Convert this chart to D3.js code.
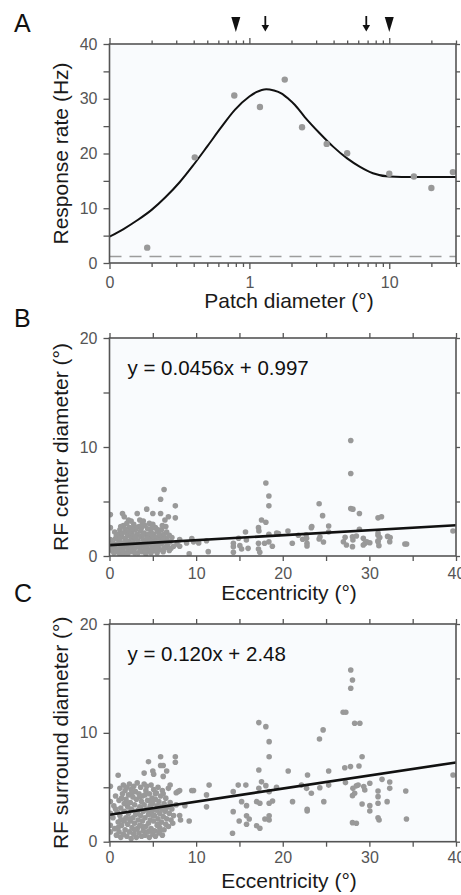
<!DOCTYPE html>
<html><head><meta charset="utf-8">
<script src="https://cdn.jsdelivr.net/npm/d3@7"></script>
<style>
html,body{margin:0;padding:0;background:#fff;}
svg text{font-family:"Liberation Sans",Arial,Helvetica,sans-serif;}
</style></head>
<body>
<svg id="fig" width="461" height="895"></svg>
<script>
// ---------- DATA ----------
// Panel A: response vs patch diameter
const aDiam = [0.186,0.407,0.78,1.19,1.79,2.38,3.57,5.0,10,15,20,28.5];
const aRate = [2.8,19.3,30.6,28.5,33.5,24.8,21.75,20.05,16.3,15.8,13.7,16.6];
const aFitX = [0.1,0.126,0.158,0.2,0.251,0.316,0.398,0.5,0.63,0.79,1.0,1.12,1.32,1.5,1.69,1.9,2.11,2.48,3.18,3.95,5.0,6.14,7.64,10,15,30];
const aFitY = [4.8,6.2,7.8,9.7,12.0,14.7,17.9,21.3,24.8,28.0,30.4,31.2,31.75,31.5,31.0,30.0,28.9,26.7,23.7,21.3,19.1,17.6,16.4,15.8,15.7,15.7];
const aBaseline = 1.2;
const aTriangles = [0.8,10];
const aArrows = [1.3,6.85];
const aXTickLabels = {0.1:"0",1:"1",10:"10"};

// Panel B: RF center diameter vs eccentricity
const bPoints = [
[0.1,3.8],[0.1,2.6],[0.1,1.5],[0.1,0.9],[0.3,0.5],[0.4,1.2],[0.5,0.3],[0.6,0.8],[0.7,1.6],[0.8,0.4],[0.9,1.1],[1.0,2.0],[1.0,0.6],[1.1,1.4],[1.2,2.4],[1.2,0.2],[1.3,0.9],[1.4,1.8],[1.5,3.9],[1.5,0.5],[1.6,1.2],[1.6,2.8],[1.7,3.6],[1.7,0.8],[1.8,1.6],[1.9,2.2],[1.9,0.3],[2.0,1.0],[2.0,3.0],[2.1,1.9],[2.2,0.6],[2.2,3.3],[2.3,1.3],[2.3,2.6],[2.4,0.4],[2.5,1.7],[2.5,3.2],[2.6,0.9],[2.6,2.1],[2.7,1.2],[2.8,2.9],[2.8,0.5],[2.9,1.6],[3.0,2.4],[3.0,0.8],[3.1,1.1],[3.2,3.9],[3.2,2.0],[3.3,0.3],[3.3,1.4],[3.4,2.7],[3.5,3.3],[3.5,0.7],[3.6,1.8],[3.6,2.3],[3.7,1.0],[3.8,3.0],[3.8,0.4],[3.9,1.5],[3.9,3.2],[4.0,2.1],[4.0,0.9],[4.1,2.8],[4.2,1.3],[4.2,0.2],[4.3,4.3],[4.3,1.9],[4.4,0.6],[4.4,2.5],[4.5,1.1],[4.6,3.0],[4.6,1.6],[4.7,0.4],[4.8,2.2],[4.9,0.8],[4.9,1.4],[5.0,3.9],[5.0,2.9],[5.1,1.0],[5.1,2.0],[5.2,0.5],[5.3,1.7],[5.3,2.6],[5.4,1.2],[5.5,0.3],[5.5,2.3],[5.6,0.9],[5.6,2.4],[5.7,1.5],[5.8,1.9],[5.8,0.6],[5.9,5.2],[5.9,3.9],[6.0,1.1],[6.0,2.4],[6.1,1.6],[6.2,0.4],[6.3,6.1],[6.3,2.0],[6.4,3.3],[6.4,1.3],[6.5,0.8],[6.5,2.7],[6.6,1.6],[6.7,1.0],[6.8,3.6],[6.9,0.5],[7.0,1.3],[7.2,1.7],[7.4,0.9],[7.6,4.6],[7.6,3.5],[7.8,1.1],[8.1,1.5],[8.1,0.9],[8.9,1.2],[9.2,0.2],[9.5,1.6],[9.7,1.3],[10.3,1.2],[11.2,1.4],[11.4,0.4],
[0.6,2.2],[0.8,1.9],[1.1,0.3],[1.3,2.7],[1.4,1.0],[1.6,0.2],[1.8,2.5],[2.0,1.4],[2.1,0.2],[2.4,2.3],[2.7,1.8],[2.9,0.3],[3.1,2.6],[3.4,1.1],[3.6,0.5],[3.9,2.0],[4.1,0.5],[4.3,1.0],[4.5,2.0],[4.8,0.3],[4.9,2.6],[5.2,1.4],[5.4,0.7],[5.7,2.1],[5.9,1.2],[6.1,2.8],[6.3,0.7],[6.6,2.2],[6.9,1.9],[7.1,0.7],[1.2,1.6],[2.2,1.1],[3.0,1.7],[3.7,2.6],[4.4,1.6],[5.0,1.8],[5.6,1.3],[6.2,1.5],[1.5,2.1],[2.6,2.5],
[27.85,10.6],[27.85,7.57],[18.05,6.7],[18.4,5.5],[18.4,4.6],[24.2,4.8],[24.6,3.7],[27.85,4.35],[28.1,4.3],[28.85,3.9],[31.0,3.5],[31.4,3.6],[17.55,3.3],[18.05,3.1],[17.2,2.6],[17.25,2.3],[15.7,2.2],[20.6,2.3],[23.35,2.7],[25.3,2.75],[28.85,2.45],[25.3,2.2],[18.4,2.0],[19.3,2.1],[19.5,2.05],[21.8,1.9],[22.7,1.95],[24.3,1.75],[31.0,1.9],[31.2,1.7],[32.1,1.8],[32.4,1.7],[39.65,2.3],[14.9,1.63],[15.8,1.47],[14.3,1.17],[14.3,0.86],[14.3,0.34],[15.05,0.95],[15.25,0.64],[16.0,0.7],[17.2,1.17],[17.2,0.64],[17.35,0.34],[17.9,1.17],[18.4,1.3],[18.8,0.9],[21.1,1.17],[22.3,1.53],[22.75,1.63],[22.8,0.92],[22.8,1.17],[24.7,1.29],[27.2,1.72],[27.0,1.31],[27.35,1.01],[28.05,1.77],[28.5,1.84],[28.1,1.47],[28.05,0.86],[29.3,1.63],[29.5,1.17],[29.7,1.31],[30.05,1.22],[29.3,1.01],[31.0,1.31],[31.1,0.95],[32.35,1.31],[34.1,1.1],[34.3,1.1],[31.0,2.1],[31.0,1.4],[23.3,2.6],[24.2,1.56]
];
const bSlope = 0.0456, bIntercept = 0.997;
const bEquation = "y = 0.0456x + 0.997";

// Panel C: RF surround diameter vs eccentricity
const cPoints = [
[0.1,5.1],[0.1,3.7],[0.1,2.6],[0.1,1.5],[0.1,0.9],
[0.4,2.2],[0.5,3.3],[0.6,1.2],[0.7,4.2],[0.8,0.6],[0.9,2.7],[1.0,6.1],[1.0,1.8],[1.1,3.8],[1.1,0.9],[1.2,4.9],[1.2,2.4],[1.3,0.4],[1.3,3.1],[1.4,1.5],[1.5,4.4],[1.5,2.0],[1.6,5.2],[1.6,0.7],[1.7,3.5],[1.7,2.8],[1.8,1.1],[1.8,4.7],[1.9,2.2],[1.9,3.9],[2.0,0.5],[2.0,5.0],[2.1,1.6],[2.1,3.2],[2.2,4.3],[2.2,2.6],[2.3,0.9],[2.3,5.3],[2.4,1.9],[2.4,3.6],[2.5,0.3],[2.5,4.8],[2.6,2.9],[2.6,1.3],[2.7,4.1],[2.7,2.2],[2.8,5.1],[2.8,0.7],[2.9,3.4],[2.9,1.7],[3.0,4.6],[3.0,2.5],[3.1,0.4],[3.1,3.9],[3.2,1.2],[3.2,5.4],[3.3,2.9],[3.3,2.0],[3.4,4.4],[3.4,0.8],[3.5,3.2],[3.5,1.5],[3.6,5.0],[3.6,2.4],[3.7,3.7],[3.7,0.5],[3.8,4.2],[3.8,1.9],[3.9,2.8],[3.9,1.0],[4.0,6.3],[4.0,5.3],[4.0,3.4],[4.1,0.6],[4.1,2.2],[4.2,4.7],[4.2,1.4],[4.3,3.0],[4.3,5.1],[4.4,0.9],[4.4,3.8],[4.5,7.35],[4.5,2.5],[4.5,1.7],[4.6,4.4],[4.6,0.4],[4.7,3.3],[4.7,2.0],[4.8,5.2],[4.8,1.2],[4.9,2.8],[4.9,4.0],[5.0,6.5],[5.0,0.7],[5.0,3.5],[5.1,6.2],[5.1,1.9],[5.1,4.8],[5.2,2.4],[5.2,1.0],[5.3,3.9],[5.3,0.5],[5.4,2.9],[5.4,4.5],[5.5,1.5],[5.5,3.3],[5.6,2.1],[5.6,5.0],[5.7,0.8],[5.7,3.7],[5.8,2.6],[5.8,1.3],[5.9,7.8],[5.9,7.0],[5.9,4.2],[6.0,1.8],[6.0,3.0],[6.1,0.6],[6.1,4.7],[6.2,7.0],[6.2,6.0],[6.2,2.3],[6.3,1.1],[6.3,3.5],[6.4,2.8],[6.5,4.0],[6.5,1.6],[6.6,6.5],[6.6,2.1],[6.7,3.2],[6.8,4.9],[6.8,1.4],[6.9,2.6],[7.0,5.2],[7.0,3.6],[7.1,2.0],[7.2,3.0],[7.3,1.7],[7.4,2.4],[7.6,7.8],[7.6,7.3],[7.7,4.5],[7.7,3.4],[7.9,4.6],[8.1,4.7],[8.1,2.4],[8.2,2.0],[8.7,3.3],[9.2,1.9],[9.5,4.7],[9.7,4.7],[11.2,4.3],[11.2,3.2],[11.5,5.2],
[0.7,3.0],[1.0,1.3],[1.4,4.0],[1.7,1.9],[2.0,3.6],[2.3,2.1],[2.6,4.5],[2.9,1.1],[3.2,2.6],[3.5,4.1],[3.8,1.4],[4.1,4.3],[4.4,2.9],[4.7,1.0],[5.0,2.4],[5.3,4.4],[5.6,1.6],[5.9,3.2],[6.2,4.4],[6.5,3.0],[1.3,2.0],[2.5,3.0],[3.6,3.0],[4.8,3.6],[5.8,1.0],
[27.85,15.78],[28.05,14.86],[27.85,14.1],[26.97,11.89],[27.28,11.89],[28.3,10.88],[28.9,10.88],[17.24,10.94],[18.05,10.57],[18.43,9.19],[18.43,7.81],[24.66,10.27],[24.24,9.44],[29.16,7.81],[27.16,6.8],[27.82,6.9],[28.8,6.96],[20.63,6.5],[17.24,6.59],[22.86,6.13],[25.3,6.5],[14.86,5.2],[15.74,5.2],[17.55,5.5],[18.05,5.15],[14.28,4.6],[17.24,4.9],[18.43,4.6],[19.28,5.0],[22.16,5.2],[22.75,4.9],[23.3,4.45],[24.28,4.96],[25.3,5.2],[27.24,5.43],[28.1,4.9],[28.5,5.13],[28.7,5.2],[28.3,4.45],[28.05,4.23],[29.35,5.06],[29.47,4.75],[30.05,5.37],[31.46,5.73],[32.35,5.49],[32.35,4.9],[31.0,4.66],[31.0,4.14],[31.0,3.53],[32.05,3.68],[34.2,4.66],[39.66,6.13],[14.28,2.76],[15.25,3.68],[15.82,3.31],[14.97,1.9],[15.82,2.39],[16.13,2.09],[15.82,1.6],[16.98,3.68],[17.36,3.53],[16.98,1.47],[17.36,1.23],[17.94,2.09],[18.43,2.39],[18.43,2.0],[18.43,3.53],[18.82,3.74],[21.13,3.68],[22.82,2.98],[22.82,2.82],[24.74,3.68],[28.05,1.75],[28.5,1.69],[29.16,3.46],[30.05,3.31],[30.05,2.82],[31.0,2.2],[31.12,2.0],[34.28,2.09],[14.2,0.77]
];
const cSlope = 0.120, cIntercept = 2.48;
const cEquation = "y = 0.120x + 2.48";

const eccTicks = [0,5,10,15,20,25,30,35,40];
const diamTicks = [0,5,10,15,20];
const rateTicks = [0,5,10,15,20,25,30,35,40];

// ---------- DRAW ----------
const svg = d3.select("#fig");
const L = 109.5, R = 456;
const BG = "#f9fbfd", AX = "#555", PT = "#999";

function styleAxis(g){
  g.select(".domain").remove();
  g.selectAll("line").attr("stroke",AX).attr("stroke-width",1.3);
  g.selectAll("text").attr("fill",AX).style("font-size","16px")
   .style("font-family","'Liberation Sans',Arial,sans-serif");
}
function frame(top,bottom,id){
  svg.append("clipPath").attr("id",id).append("rect")
    .attr("x",L).attr("y",top).attr("width",R-L).attr("height",bottom-top);
  svg.append("rect").attr("x",L).attr("y",top).attr("width",R-L).attr("height",bottom-top)
    .attr("fill",BG);
}
function border(top,bottom){
  svg.append("rect").attr("x",L).attr("y",top).attr("width",R-L).attr("height",bottom-top)
    .attr("fill","none").attr("stroke",AX).attr("stroke-width",1.6);
}
function letter(t,x,y){
  svg.append("text").attr("x",x).attr("y",y).text(t)
    .style("font-size","25px").attr("fill","#111");
}
function ylabel(t,cy){
  svg.append("text").attr("transform",`translate(68,${cy}) rotate(-90)`)
    .attr("text-anchor","middle").text(t).style("font-size","21px").attr("fill","#1a1a1a");
}
function xlabel(t,y){
  svg.append("text").attr("x",289).attr("y",y).attr("text-anchor","middle")
    .text(t).style("font-size","21px").attr("fill","#1a1a1a");
}

// ===== Panel A =====
const aTop=44, aBot=263;
const xA = d3.scaleLog().domain([0.1,30]).range([L,R]);
const yA = d3.scaleLinear().domain([0,40]).range([aBot,aTop]);
frame(aTop,aBot,"clipA");
const logTicks = [];
[0.1,1,10].forEach(dec=>{ for(let k=1;k<=9;k++){ const v=+(dec*k).toPrecision(3); if(v<=30) logTicks.push(v);} });
const isMajor = v => v===0.1||v===1||v===10;

svg.append("line").attr("x1",xA(0.1)).attr("x2",R).attr("y1",yA(aBaseline)).attr("y2",yA(aBaseline))
  .attr("stroke","#9c9c9c").attr("stroke-width",1.6).attr("stroke-dasharray","12,8");
const aLine = d3.line().x(d=>xA(d[0])).y(d=>yA(d[1])).curve(d3.curveMonotoneX);
svg.append("path").datum(aFitX.map((x,i)=>[x,aFitY[i]])).attr("d",aLine)
  .attr("fill","none").attr("stroke","#111").attr("stroke-width",2).attr("clip-path","url(#clipA)");
svg.append("g").selectAll("circle").data(aDiam.map((x,i)=>[x,aRate[i]])).join("circle")
  .attr("cx",d=>xA(d[0])).attr("cy",d=>yA(d[1])).attr("r",3.2).attr("fill",PT);
border(aTop,aBot);

const gAx = svg.append("g").attr("transform",`translate(0,${aBot})`)
  .call(d3.axisBottom(xA).tickValues(logTicks).tickSize(4).tickFormat(d=>aXTickLabels[d]||""));
styleAxis(gAx);
gAx.selectAll(".tick line").attr("y2",d=>isMajor(d)?6:4);
gAx.selectAll(".tick text").attr("y",25).attr("dy",0);
const gAt = svg.append("g").attr("transform",`translate(0,${aTop})`)
  .call(d3.axisTop(xA).tickValues(logTicks).tickSize(4).tickFormat(""));
styleAxis(gAt);
gAt.selectAll(".tick line").attr("y2",d=>isMajor(d)?-6:-3.5);
const gAl = svg.append("g").attr("transform",`translate(${L},0)`)
  .call(d3.axisLeft(yA).tickValues(rateTicks).tickSize(6).tickPadding(6).tickFormat(d=>d%10===0?d:""));
styleAxis(gAl);
const gAr = svg.append("g").attr("transform",`translate(${R},0)`)
  .call(d3.axisRight(yA).tickValues(rateTicks).tickSize(4).tickFormat(""));
styleAxis(gAr);

// markers above panel A
const mk = svg.append("g").attr("fill","#111").attr("stroke","#111");
aTriangles.forEach(v=>{
  const cx=xA(v);
  mk.append("path").attr("d",`M${cx-4.5},17 L${cx+4.5},17 L${cx},32 Z`).attr("stroke","none");
});
aArrows.forEach(v=>{
  const cx=xA(v);
  mk.append("line").attr("x1",cx).attr("x2",cx).attr("y1",16).attr("y2",27).attr("stroke-width",1.8);
  mk.append("path").attr("d",`M${cx-3.8},25 L${cx+3.8},25 L${cx},31.5 Z`).attr("stroke","none");
});

letter("A",14,31.5);
ylabel("Response rate (Hz)",153.5);
xlabel("Patch diameter (°)",307.5);

// ===== Scatter panels =====
function scatterPanel(top,bot,id,points,slope,intercept,eq,eqY,labelX,labelY,xlabY,tickLabY){
  const x = d3.scaleLinear().domain([0,40]).range([L,R]);
  const y = d3.scaleLinear().domain([0,20]).range([bot,top]);
  frame(top,bot,id);
  svg.append("g").attr("clip-path",`url(#${id})`).selectAll("circle").data(points).join("circle")
    .attr("cx",d=>x(d[0])).attr("cy",d=>y(d[1])).attr("r",2.8).attr("fill",PT);
  svg.append("line").attr("x1",x(0)).attr("x2",x(40))
    .attr("y1",y(intercept)).attr("y2",y(intercept+slope*40))
    .attr("stroke","#111").attr("stroke-width",2.6);
  border(top,bot);
  const gb = svg.append("g").attr("transform",`translate(0,${bot})`)
    .call(d3.axisBottom(x).tickValues(eccTicks).tickSize(5).tickFormat(d=>d%10===0?d:""));
  styleAxis(gb);
  gb.selectAll(".tick text").attr("y",tickLabY).attr("dy",0);
  const gt = svg.append("g").attr("transform",`translate(0,${top})`)
    .call(d3.axisTop(x).tickValues(eccTicks).tickSize(5).tickFormat(""));
  styleAxis(gt);
  const gl = svg.append("g").attr("transform",`translate(${L},0)`)
    .call(d3.axisLeft(y).tickValues(diamTicks).tickSize(6).tickPadding(6).tickFormat(d=>d%10===0?d:""));
  styleAxis(gl);
  const gr = svg.append("g").attr("transform",`translate(${R},0)`)
    .call(d3.axisRight(y).tickValues(diamTicks).tickSize(4).tickFormat(""));
  styleAxis(gr);
  svg.append("text").attr("x",127.5).attr("y",eqY).text(eq).style("font-size","20.5px").attr("fill","#111");
  ylabel(labelY,(top+bot)/2);
  xlabel(labelX,xlabY);
}

scatterPanel(338,556,"clipB",bPoints,bSlope,bIntercept,bEquation,375,"Eccentricity (°)","RF center diameter (°)",599.5,23.3);
letter("B",14,327);
scatterPanel(624,841.7,"clipC",cPoints,cSlope,cIntercept,cEquation,660.7,"Eccentricity (°)","RF surround diameter (°)",888,21);
letter("C",14,602);
</script>
</body></html>
